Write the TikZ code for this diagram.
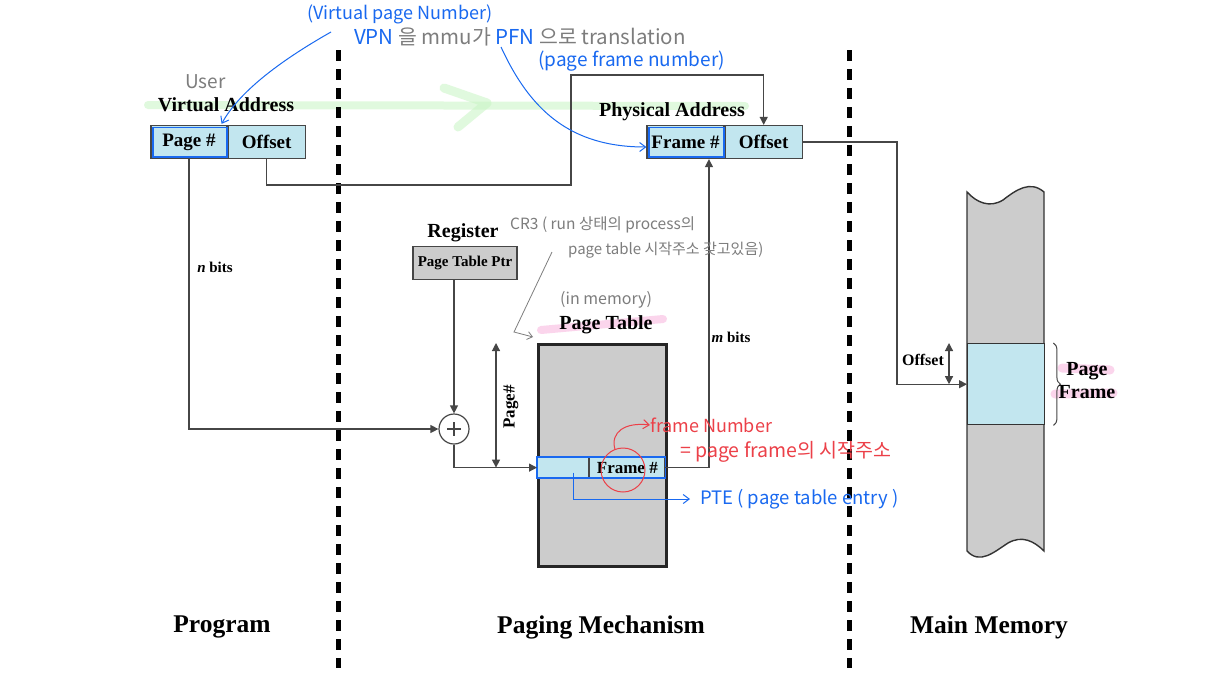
\documentclass[tikz,border=0pt]{standalone}
\usepackage{fontspec}
\setmainfont{Liberation Serif}
\newfontfamily\hand{Noto Sans CJK KR}
\usetikzlibrary{arrows.meta,decorations.pathreplacing,calc}
\definecolor{lblue}{RGB}{194,230,239}
\definecolor{gfill}{RGB}{204,204,204}
\definecolor{hblue}{RGB}{25,105,240}
\definecolor{hred}{RGB}{236,64,72}
\definecolor{hgray}{RGB}{125,125,125}
\definecolor{hgreen}{RGB}{200,245,195}
\definecolor{hpink}{RGB}{248,180,222}
\definecolor{lncol}{RGB}{70,70,70}
\tikzset{
  fs/.style={font=\bfseries\fontsize{#1}{#1}\selectfont},
  cell/.style={draw=lncol, line width=1.2pt, fill=lblue, minimum height=33, inner sep=0, fs=19},
  lbl/.style={fs=20, inner sep=0},
  conn/.style={draw=lncol, line width=1.2pt},
  arr/.style={conn, -{Triangle[length=8pt,width=8pt]}},
  darr/.style={conn, {Triangle[length=8pt,width=8pt]}-{Triangle[length=8pt,width=8pt]}},
  hw/.style={font=\hand\fontsize{#1}{#1}\selectfont, inner sep=0},
  hwarr/.style={line width=1pt, -{Straight Barb[length=6pt,width=9pt]}},
  hl/.style={line width=#1, line cap=round, opacity=0.55},
  divider/.style={line width=5pt, dash pattern=on 11pt off 8pt},
}
\begin{document}
\begin{tikzpicture}[x=1pt,y=-1pt]
\useasboundingbox[fill=white] (0,0) rectangle (1206,678);

% highlights
\draw[hgreen, hl=8pt] (148,105) -- (745,106);
\draw[hgreen, hl=9pt, line join=round] (444,88) -- (487,103) -- (458,127);
\draw[hpink, hl=8pt] (541,330) -- (663,319);
\draw[hpink, hl=9pt] (1062,368) -- (1110,370);
\draw[hpink, hl=9pt] (1055,394) -- (1113,393);

% dividers
\draw[divider] (338,50) -- (338,668);
\draw[divider] (849,50) -- (849,668);

% virtual address
\node[lbl] (va) at (226,105) {Virtual Address};
\node[cell, minimum width=76] (vpage) at (189,142) {Page \#};
\node[cell, minimum width=77, anchor=west] (voff) at (vpage.east) {Offset};
\draw[hblue, line width=1.8pt] ($(vpage.north west)+(2.5,2.5)$) rectangle ($(vpage.south east)+(-1,-2.5)$);

% physical address
\node[lbl] (pa) at (672,112) {Physical Address};
\node[cell, minimum width=77] (pframe) at (685.5,142) {Frame \#};
\node[cell, minimum width=77, anchor=west] (poff) at (pframe.east) {Offset};
\draw[hblue, line width=1.8pt] ($(pframe.north west)+(2.5,2.5)$) rectangle ($(pframe.south east)+(-1,-2.5)$);

\draw[arr] (voff.south) |- (571,185) -- (571,75) -| (poff.north);

% register
\node[lbl] (reg) at (463,233) {Register};
\node[cell, fill=gfill, minimum width=104, minimum height=33, fs=15] (ptp) at (465,263) {Page Table Ptr};
\node[circle, draw=lncol, line width=1.2pt, minimum size=30, inner sep=0] (plus) at (454,429) {};
\draw[line width=1.2pt, lncol] ($(plus)+(-7,0)$) -- ($(plus)+(7,0)$) ($(plus)+(0,-7)$) -- ($(plus)+(0,7)$);
\draw[arr] (ptp.south -| plus.north) -- (plus.north);
\draw[arr] (vpage.south) |- (plus.west);
\node[fs=15, inner sep=0] (nbits) at (215,267) {\itshape n\upshape\ bits};

% page table
\node[draw=black!85, line width=2.5pt, fill=gfill, minimum width=128, minimum height=222, anchor=north west, inner sep=0] (pt) at (537,343) {};
\node[lbl] (ptl) at (606,325) {Page Table};
\node[cell, minimum width=51, minimum height=20, anchor=north west] (pte1) at (537,457) {};
\node[cell, minimum width=75, minimum height=20, anchor=west, fs=17] (pte2) at (pte1.east) {Frame \#};
\draw[hblue, line width=1.8pt] (pte1.north west) rectangle (pte2.south east);
\draw[arr] (plus.south) |- (pte1.west);
\draw[darr] ($(pt.north west)+(-41,0)$) -- ($(pte1.west)+(-41,0)$);
\node[fs=17, rotate=90, inner sep=0] (pgn) at (511,407) {Page\#};
\draw[arr] (pte2.east) -| ($(pframe.south)!0.6!(pframe.south east)$);
\node[fs=15, inner sep=0] (mbits) at (731,337) {\itshape m\upshape\ bits};

% main memory
\draw[draw=black!80, line width=1.4pt, fill=gfill] (967,192) .. controls (977,203) and (990,208) .. (1003,200) .. controls (1016,190) and (1030,180) .. (1044,192) -- (1044,551) .. controls (1034,541) and (1022,535) .. (1008,543) .. controls (994,552) and (980,565) .. (967,551) -- cycle;
\node[draw=black!80, line width=1.4pt, fill=lblue, minimum width=77, minimum height=81, anchor=north west, inner sep=0] (mframe) at (967,343) {};
\draw[arr] (poff.east) -| ($(mframe.west)+(-70,0)$) -- (mframe.west);
\draw[darr] ($(mframe.north west)+(-18,0)$) -- ($(mframe.west)+(-18,0)$);
\node[fs=16, inner sep=0] (moff) at (923,360) {Offset};
\draw[decorate, decoration={brace, amplitude=7pt}, line width=1pt, lncol] ($(mframe.north east)+(8,0)$) -- ($(mframe.south east)+(8,0)$);
\node[font=\bfseries\fontsize{20}{23}\selectfont, align=center, inner sep=0] (pf) at (1087,381) {Page\\Frame};

% section labels
\node[fs=25.5] (prog) at (222,627) {Program};
\node[fs=25.5] (pm) at (601,627) {Paging Mechanism};
\node[fs=25.5] (mm) at (989,627) {Main Memory};

% handwritten notes
\node[hw=18, text=hblue, anchor=west] (vpnote) at (307,14) {(Virtual page Number)};
\node[hw=20.5, text=hgray, anchor=west] (trans) at (354,37) {{\color{hblue}VPN} 을 mmu가 {\color{hblue}PFN} 으로 translation};
\node[hw=19, text=hblue, anchor=west] (pfnote) at (538,61) {(page frame number)};
\node[hw=19, text=hgray, anchor=west] (user) at (185,82) {User};
\coordinate (a1) at (331,32);
\draw[hblue, hwarr] (a1) .. controls (285,58) and (240,90) .. ($(vpage.north east)+(-6,-1)$);
\coordinate (a2) at (501,47);
\draw[hblue, hwarr] (a2) .. controls (530,110) and (570,147) .. ($(pframe.west)+(0,5)$);

\node[hw=15.5, text=hgray, anchor=west] (cr3a) at (510,225) {CR3 ( run 상태의 process의};
\node[hw=15, text=hgray, anchor=west] (cr3b) at (568,250) {page table 시작주소 갖고있음)};
\coordinate (a3) at (552,252);
\draw[hgray, line width=0.8pt, -{Straight Barb[length=5pt,width=8pt]}] (a3) -- (514,332) -- ($(pt.north west)+(-4,-6)$);
\node[hw=16, text=hgray, anchor=west] (inmem) at (560,300) {(in memory)};

\node[circle, draw=hred, line width=1pt, minimum size=44, inner sep=0] (rc) at (623,470) {};
\node[hw=18, text=hred, anchor=west] (fn) at (650,425) {frame Number};
\node[hw=19.5, text=hred, anchor=west] (fnb) at (680,452) {= page frame의 시작주소};
\draw[hred, hwarr] ($(rc.north)+(-8,2)$) .. controls (610,432) and (625,422) .. (fn.west);

\node[hw=18.5, text=hblue, anchor=west] (ptet) at (700,499) {PTE ( page table entry )};
\draw[hblue, hwarr] ($(pte1.center)+(10,5)$) |- ($(ptet.west)+(-10,0)$);
\end{tikzpicture}
\end{document}
